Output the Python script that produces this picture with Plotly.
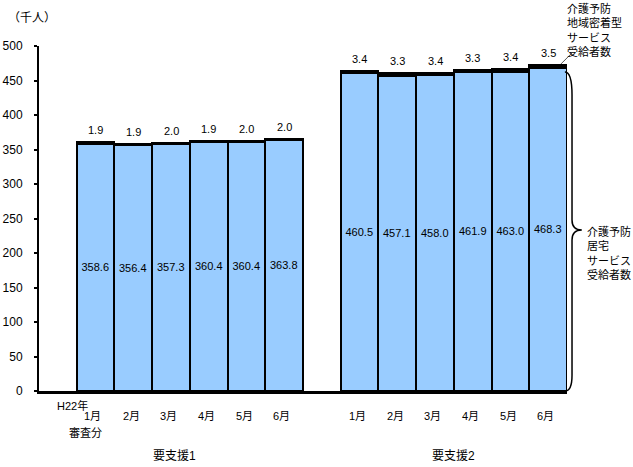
import plotly.graph_objects as go

# ---- data ----
groups = ["要支援1", "要支援2"]
months = ["1月", "2月", "3月", "4月", "5月", "6月"]
kyotaku_1 = [358.6, 356.4, 357.3, 360.4, 360.4, 363.8]
chiiki_1 = [1.9, 1.9, 2.0, 1.9, 2.0, 2.0]
kyotaku_2 = [460.5, 457.1, 458.0, 461.9, 463.0, 468.3]
chiiki_2 = [3.4, 3.3, 3.4, 3.3, 3.4, 3.5]
y_ticks = [0, 50, 100, 150, 200, 250, 300, 350, 400, 450, 500]

FONT = "Liberation Sans, Noto Sans CJK JP, sans-serif"
BLUE = "#99CCFF"

# slot positions: empty slot, 6 bars, empty slot, 6 bars
x1 = [1 + i for i in range(6)]
x2 = [8 + i for i in range(6)]
xs = x1 + x2
kyotaku = kyotaku_1 + kyotaku_2
chiiki = chiiki_1 + chiiki_2

fig = go.Figure()
fig.add_trace(go.Bar(
    x=xs, y=kyotaku, name="介護予防居宅サービス受給者数",
    marker=dict(color=BLUE, line=dict(color="black", width=2.5)),
    text=[f"{v:.1f}" for v in kyotaku], textposition="inside",
    insidetextanchor="middle", textangle=0,
    textfont=dict(family=FONT, size=11, color="black"),
))
fig.add_trace(go.Bar(
    x=xs, y=chiiki, name="介護予防地域密着型サービス受給者数",
    marker=dict(color="black", line=dict(color="black", width=2.5)),
))

annotations = []
# top value labels
for x, a, b in zip(xs, kyotaku, chiiki):
    annotations.append(dict(x=x, y=a + b, xref="x", yref="y", text=f"{b:.1f}",
                            showarrow=False, yanchor="bottom", yshift=4,
                            font=dict(family=FONT, size=11, color="black")))
# month labels
for gi, gx in enumerate([x1, x2]):
    for i, (x, m) in enumerate(zip(gx, months)):
        xx = x - 0.06
        if gi == 0 and i == 0:
            xx = x - 0.08
        annotations.append(dict(x=xx, y=-0.0725, xref="x", yref="paper", text=m,
                                showarrow=False, yanchor="middle",
                                font=dict(family=FONT, size=11, color="black")))
annotations.append(dict(x=0.40, y=-0.041, xref="x", yref="paper", text="H22年",
                        showarrow=False, yanchor="middle",
                        font=dict(family=FONT, size=11, color="black")))
annotations.append(dict(x=0.72, y=-0.119, xref="x", yref="paper", text="審査分",
                        showarrow=False, yanchor="middle",
                        font=dict(family=FONT, size=11, color="black")))
# group labels
for g, gx in zip(groups, [3.1, 10.5]):
    annotations.append(dict(x=gx, y=-0.188, xref="x", yref="paper", text=g,
                            showarrow=False, yanchor="middle",
                            font=dict(family=FONT, size=12, color="black")))
# unit label
annotations.append(dict(x=-0.062, y=1.081, xref="paper", yref="paper", text="（千人）",
                        showarrow=False, xanchor="left", yanchor="middle",
                        font=dict(family=FONT, size=12, color="black")))
# legend-like labels
annotations.append(dict(x=0.996, y=1.132, xref="paper", yref="paper",
                        text="介護予防<br>地域密着型<br>サービス<br>受給者数",
                        showarrow=False, xanchor="left", yanchor="top", align="left",
                        font=dict(family=FONT, size=11, color="black")))
annotations.append(dict(x=1.034, y=0.487, xref="paper", yref="paper",
                        text="介護予防<br>居宅<br>サービス<br>受給者数",
                        showarrow=False, xanchor="left", yanchor="top", align="left",
                        font=dict(family=FONT, size=11, color="black")))

shapes = [
    dict(type="path", xref="paper", yref="paper",
         path="M 0.996,0.925 Q 1.0095,0.925 1.0095,0.858 L 1.0095,0.496 "
              "Q 1.0095,0.467 1.028,0.467 Q 1.0095,0.467 1.0095,0.438 "
              "L 1.0095,0.046 Q 1.0095,0 0.996,0",
         line=dict(color="black", width=1.5)),
    dict(type="line", xref="paper", yref="paper", x0=0.9886, y0=0.948, x1=1.0095, y1=0.980,
         line=dict(color="#555555", width=1)),
]

fig.update_layout(
    width=633, height=467,
    margin=dict(l=39, r=66, t=46, b=76, autoexpand=False),
    barmode="stack", bargap=0,
    showlegend=False,
    plot_bgcolor="white", paper_bgcolor="white",
    font=dict(family=FONT, size=12, color="black"),
    xaxis=dict(range=[-0.5, 13.5], showticklabels=False, ticks="",
               showgrid=False, zeroline=False, showline=True, automargin=False,
               linecolor="black", linewidth=2.5, fixedrange=True),
    yaxis=dict(range=[0, 500], tickvals=y_ticks, ticks="outside", ticklen=3,
               tickwidth=2, tickcolor="black", showgrid=False, zeroline=False,
               showline=True, linecolor="black", linewidth=2, automargin=False,
               ticklabelstandoff=9,
               tickfont=dict(family=FONT, size=12, color="black")),
    annotations=annotations,
    shapes=shapes,
)

fig.write_html("out.html", config={"displayModeBar": False},
               post_script="document.body.style.margin='0px';document.body.style.overflow='hidden';")
